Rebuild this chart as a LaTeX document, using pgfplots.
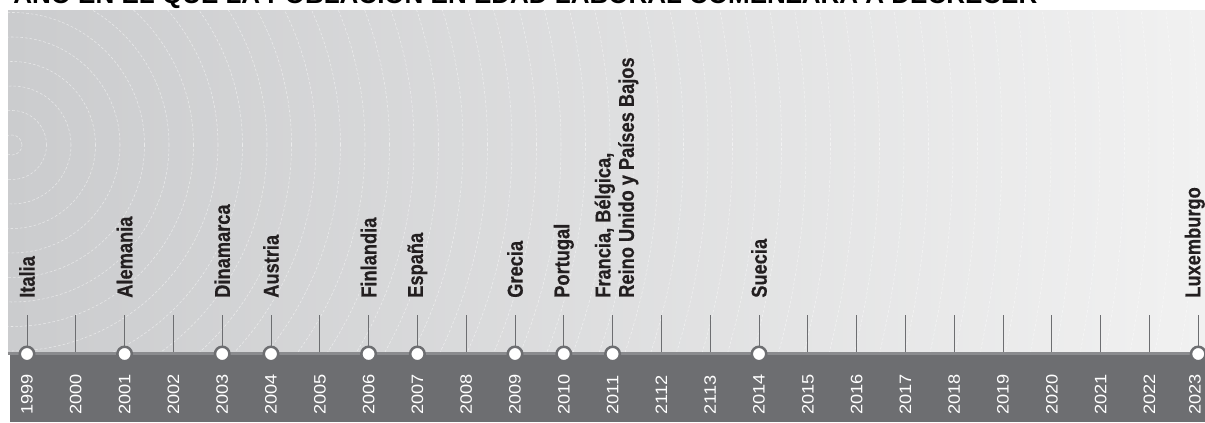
\documentclass[border=0pt]{standalone}
\usepackage{fontspec}
\setmainfont{Liberation Sans}
\newfontfamily\condf[FakeStretch=0.85, BoldFeatures={FakeBold=0.5}]{Liberation Sans}
\newfontfamily\yearf[FakeStretch=1.1]{Liberation Sans}
\usepackage{pgfplots}
\usepackage{pgfplotstable}
\pgfplotsset{compat=1.18}
\definecolor{band}{HTML}{6D6E71}
\definecolor{txt}{HTML}{231F20}
\definecolor{pl}{HTML}{CBCCCE}
\definecolor{pr}{HTML}{F1F1F1}
\definecolor{hl}{HTML}{8A8B8E}

\pgfplotstableread{
x xl yl yt et lab
1999 1999 8 70 38 1999
2000 2000 8 70 38 2000
2001 2001 8 70 38 2001
2002 2002 8 70 38 2002
2003 2003 8 70 38 2003
2004 2004 8 70 38 2004
2005 2005 8 70 38 2005
2006 2006 8 70 38 2006
2007 2007 8 70 38 2007
2008 2008 8 70 38 2008
2009 2009 8 70 38 2009
2010 2010 8 70 38 2010
2011 2011 8 70 38 2011
2012 2012 8 70 38 2112
2013 2013 8 70 38 2113
2014 2014 8 70 38 2014
2015 2015 8 70 38 2015
2016 2016 8 70 38 2016
2017 2017 8 70 38 2017
2018 2018 8 70 38 2018
2019 2019 8 70 38 2019
2020 2020 8 70 38 2020
2021 2021 8 70 38 2021
2022 2022 8 70 38 2022
2023 2022.93 8 70 38 2023
}\years

\pgfplotstableread{
x y lab
1999 125 Italia
2001 125 Alemania
2003 125 Dinamarca
2004 125 Austria
2006 125 Finlandia
2007 125 España
2009 125 Grecia
2010 125 Portugal
2014 125 Suecia
2022.93 125 Luxemburgo
}\countries

\pgfplotstableread{
x y
1999 69
2001 69
2003 69
2004 69
2006 69
2007 69
2009 69
2010 69
2011 69
2014 69
2023 69
}\markers

\begin{document}
\begin{tikzpicture}[x=0.75pt,y=0.75pt]
\shade[left color=pl, right color=pr] (8,68) rectangle (1205,412);
\begin{scope}
\clip (8,68) rectangle (1205,412);
\foreach \r in {10,34.5,...,1260}
  \draw[white, opacity=0.55, line width=0.4pt, dash pattern=on 2pt off 1.5pt] (12,278) circle[radius=\r];
\end{scope}
\fill[band] (10,1) rectangle (1205,68);
\begin{axis}[at={(0,0)}, anchor=south west, scale only axis,
  width=903.75pt, height=317.25pt,
  xmin=1998.4467, xmax=2023.139, ymin=0, ymax=423,
  hide axis, clip=false]
\addplot[draw=none, mark=none, forget plot,
  error bars/.cd, y dir=plus, y explicit, error mark=none,
  error bar style={draw=band, line width=0.75pt}]
  table[x=x, y=yt, y error=et] {\years};
\addplot[draw=hl, line width=1.9pt, mark=none, forget plot]
  coordinates {(1998.61,69.5) (2023.139,69.5)};
\addplot[only marks, mark=*, mark size=5.44pt, forget plot,
  mark options={fill=white, draw=band, line width=1.875pt}]
  table[x=x, y=y] {\markers};
\addplot[draw=none, mark=none, forget plot,
  nodes near coords, point meta=explicit symbolic,
  nodes near coords style={rotate=90, anchor=west, inner sep=0pt,
    text=white, font=\yearf\fontsize{12.4}{14}\selectfont}]
  table[x=xl, y=yl, meta=lab] {\years};
\addplot[draw=none, mark=none, forget plot,
  nodes near coords, point meta=explicit symbolic,
  nodes near coords style={rotate=90, anchor=west, inner sep=0pt,
    text=txt, font=\condf\bfseries\fontsize{16.1}{18}\selectfont}]
  table[x=x, y=y, meta=lab] {\countries};
\addplot[draw=none, mark=none, forget plot,
  nodes near coords={Francia, Bélgica,\\Reino Unido y Países Bajos},
  nodes near coords style={rotate=90, anchor=west, inner sep=0pt, align=left,
    text=txt, font=\condf\bfseries\fontsize{16.1}{17.6}\selectfont}]
  coordinates {(2011.08,125)};
\end{axis}
\node[anchor=base west, inner sep=0pt, text=black,
  font=\bfseries\fontsize{19.5}{20}\selectfont] at (13,419)
  {AÑO EN EL QUE LA POBLACIÓN EN EDAD LABORAL COMENZARÁ A DECRECER};
\pgfresetboundingbox
\path[use as bounding box] (0,0) rectangle (1205,423);
\end{tikzpicture}
\end{document}
